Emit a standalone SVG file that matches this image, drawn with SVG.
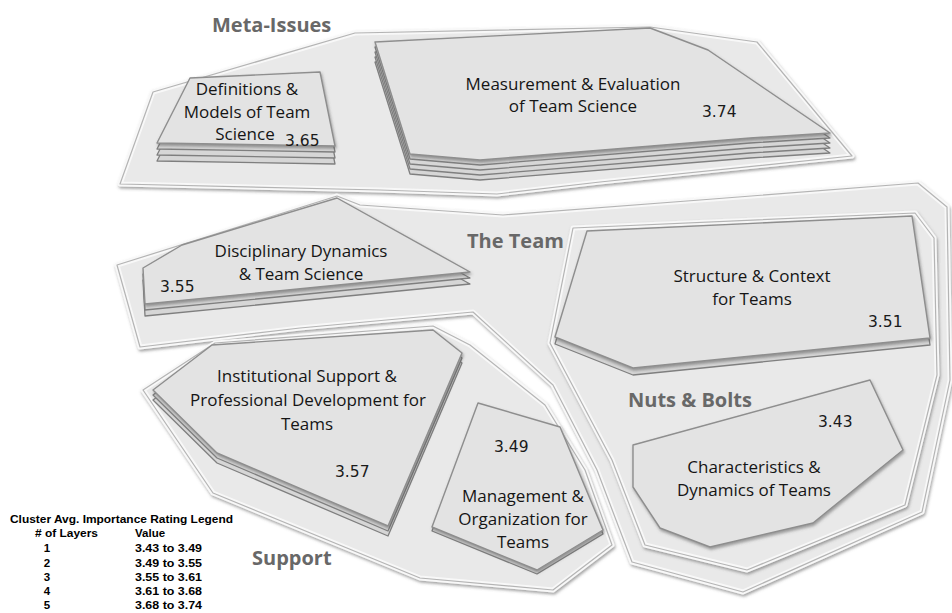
<svg xmlns="http://www.w3.org/2000/svg" xmlns:xlink="http://www.w3.org/1999/xlink" width="952" height="613" viewBox="0 0 952 613">
<defs>
<filter id="sh" x="-10%" y="-10%" width="120%" height="130%">
<feDropShadow dx="1" dy="2" stdDeviation="1.6" flood-color="#555" flood-opacity="0.55"/>
</filter>
<polygon id="p-meta" points="120,184 153,92 355,33 650,27 757,42 852,156 600,182 497,194 380,190"/>
<polygon id="p-team" points="117,265 337,196 360,205 503,215 700,200 918,183 947,207 950,380 922,512 743,592 632,562 597,470 553,385 473,312 300,328 140,347"/>
<polygon id="p-nuts" points="573,228 915,213 934,238 937,375 905,505 747,570 645,545 612,460 550,343"/>
<polygon id="p-support" points="143,390 215,343 433,326 470,345 545,405 585,470 612,545 553,590 420,578 213,493"/>
<polygon id="c-def" points="190,78 320,72 335,146 157,143"/>
<polygon id="c-meas" points="375,42 650,28 708,50 830,133 750,138 480,160 410,154"/>
<polygon id="c-disc" points="143,268 182,245 337,198 470,272 145,304"/>
<polygon id="c-struct" points="587,231 912,216 930,338 633,368 555,337"/>
<polygon id="c-inst" points="212,345 433,330 462,353 388,526 217,453 153,390"/>
<polygon id="c-mgmt" points="478,403 560,427 603,530 537,570 432,527"/>
<polygon id="c-char" points="633,445 870,380 903,450 813,523 710,547 660,528 633,487"/>
</defs>
<style>
.region{fill:#e9e9e9;stroke:#f8f8f8;stroke-width:5;stroke-linejoin:round;filter:url(#sh)}
.rim{fill:none;stroke:#b4b4b4;stroke-width:1.2;stroke-linejoin:round}
.layer{fill:#d6d6d6;stroke:#7f7f7f;stroke-width:1.3;stroke-linejoin:round}
.face{fill:#e3e3e3;stroke:#8e8e8e;stroke-width:1.4;stroke-linejoin:round;filter:url(#sh)}
.lbl{font-family:"Open Sans","Liberation Sans",sans-serif;font-size:17px;fill:#151515;text-anchor:middle}
.num{font-family:"DejaVu Sans","Liberation Sans",sans-serif;font-size:15.5px;fill:#1a1a1a}
.rl{font-family:"Open Sans","Liberation Sans",sans-serif;font-weight:bold;font-size:20px;fill:#686868}
.lg{font-family:"Liberation Sans","DejaVu Sans",sans-serif;font-weight:bold;font-size:11.5px;fill:#000}
</style>
<rect width="952" height="613" fill="#ffffff"/>

<g id="region-meta-issues">
<use href="#p-meta" class="region"/><use href="#p-meta" class="rim"/>
<text class="rl" x="212" y="32">Meta-Issues</text>
</g>
<g id="region-the-team">
<use href="#p-team" class="region"/><use href="#p-team" class="rim"/>
<text class="rl" x="467" y="248">The Team</text>
</g>
<g id="region-nuts-bolts">
<use href="#p-nuts" class="region"/><use href="#p-nuts" class="rim"/>
<text class="rl" x="628" y="407">Nuts &amp; Bolts</text>
</g>
<g id="region-support">
<use href="#p-support" class="region"/><use href="#p-support" class="rim"/>
<text class="rl" x="252" y="565">Support</text>
</g>

<g id="cluster-definitions">
<use href="#c-def" class="layer" transform="translate(0,18)"/>
<use href="#c-def" class="layer" transform="translate(0,12)"/>
<use href="#c-def" class="layer" transform="translate(0,6)"/>
<use href="#c-def" class="face"/>
<text class="lbl" x="247" y="95">Definitions &amp;</text>
<text class="lbl" x="247" y="118">Models of Team</text>
<text class="lbl" x="245" y="140">Science</text>
<text class="num" x="285" y="146">3.65</text>
</g>
<g id="cluster-measurement">
<use href="#c-meas" class="layer" transform="translate(0,20)"/>
<use href="#c-meas" class="layer" transform="translate(0,15)"/>
<use href="#c-meas" class="layer" transform="translate(0,10)"/>
<use href="#c-meas" class="layer" transform="translate(0,5)"/>
<use href="#c-meas" class="face"/>
<text class="lbl" x="573" y="90">Measurement &amp; Evaluation</text>
<text class="lbl" x="573" y="112">of Team Science</text>
<text class="num" x="702" y="117">3.74</text>
</g>
<g id="cluster-disciplinary">
<use href="#c-disc" class="layer" transform="translate(0,12)"/>
<use href="#c-disc" class="layer" transform="translate(0,6)"/>
<use href="#c-disc" class="face"/>
<text class="lbl" x="301" y="257">Disciplinary Dynamics</text>
<text class="lbl" x="301" y="280">&amp; Team Science</text>
<text class="num" x="160" y="292">3.55</text>
</g>
<g id="cluster-structure">
<use href="#c-struct" class="layer" transform="translate(0,7)"/>
<use href="#c-struct" class="face"/>
<text class="lbl" x="752" y="282">Structure &amp; Context</text>
<text class="lbl" x="752" y="305">for Teams</text>
<text class="num" x="868" y="327">3.51</text>
</g>
<g id="cluster-institutional">
<use href="#c-inst" class="layer" transform="translate(0,10)"/>
<use href="#c-inst" class="layer" transform="translate(0,5)"/>
<use href="#c-inst" class="face"/>
<text class="lbl" x="307" y="382">Institutional Support &amp;</text>
<text class="lbl" x="308" y="406">Professional Development for</text>
<text class="lbl" x="307" y="430">Teams</text>
<text class="num" x="335" y="477">3.57</text>
</g>
<g id="cluster-management">
<use href="#c-mgmt" class="layer" transform="translate(0,4)"/>
<use href="#c-mgmt" class="face"/>
<text class="num" x="494" y="452">3.49</text>
<text class="lbl" x="523" y="502">Management &amp;</text>
<text class="lbl" x="523" y="525">Organization for</text>
<text class="lbl" x="523" y="548">Teams</text>
</g>
<g id="cluster-characteristics">
<use href="#c-char" class="face"/>
<text class="num" x="818" y="427">3.43</text>
<text class="lbl" x="754" y="473">Characteristics &amp;</text>
<text class="lbl" x="754" y="496">Dynamics of Teams</text>
</g>

<g id="connectors"/>

<g id="legend">
<text class="lg" x="10" y="523" textLength="223" lengthAdjust="spacingAndGlyphs">Cluster Avg. Importance Rating Legend</text>
<text class="lg" x="35" y="537" textLength="63" lengthAdjust="spacingAndGlyphs">#&#160;of Layers</text>
<text class="lg" x="135" y="537">Value</text>
<text class="lg" x="47" y="552" text-anchor="middle">1</text><text class="lg" x="135" y="552" textLength="67" lengthAdjust="spacingAndGlyphs">3.43 to 3.49</text>
<text class="lg" x="47" y="566.5" text-anchor="middle">2</text><text class="lg" x="135" y="566.5" textLength="67" lengthAdjust="spacingAndGlyphs">3.49 to 3.55</text>
<text class="lg" x="47" y="581" text-anchor="middle">3</text><text class="lg" x="135" y="581" textLength="67" lengthAdjust="spacingAndGlyphs">3.55 to 3.61</text>
<text class="lg" x="47" y="595" text-anchor="middle">4</text><text class="lg" x="135" y="595" textLength="67" lengthAdjust="spacingAndGlyphs">3.61 to 3.68</text>
<text class="lg" x="47" y="609" text-anchor="middle">5</text><text class="lg" x="135" y="609" textLength="67" lengthAdjust="spacingAndGlyphs">3.68 to 3.74</text>
</g>
</svg>
